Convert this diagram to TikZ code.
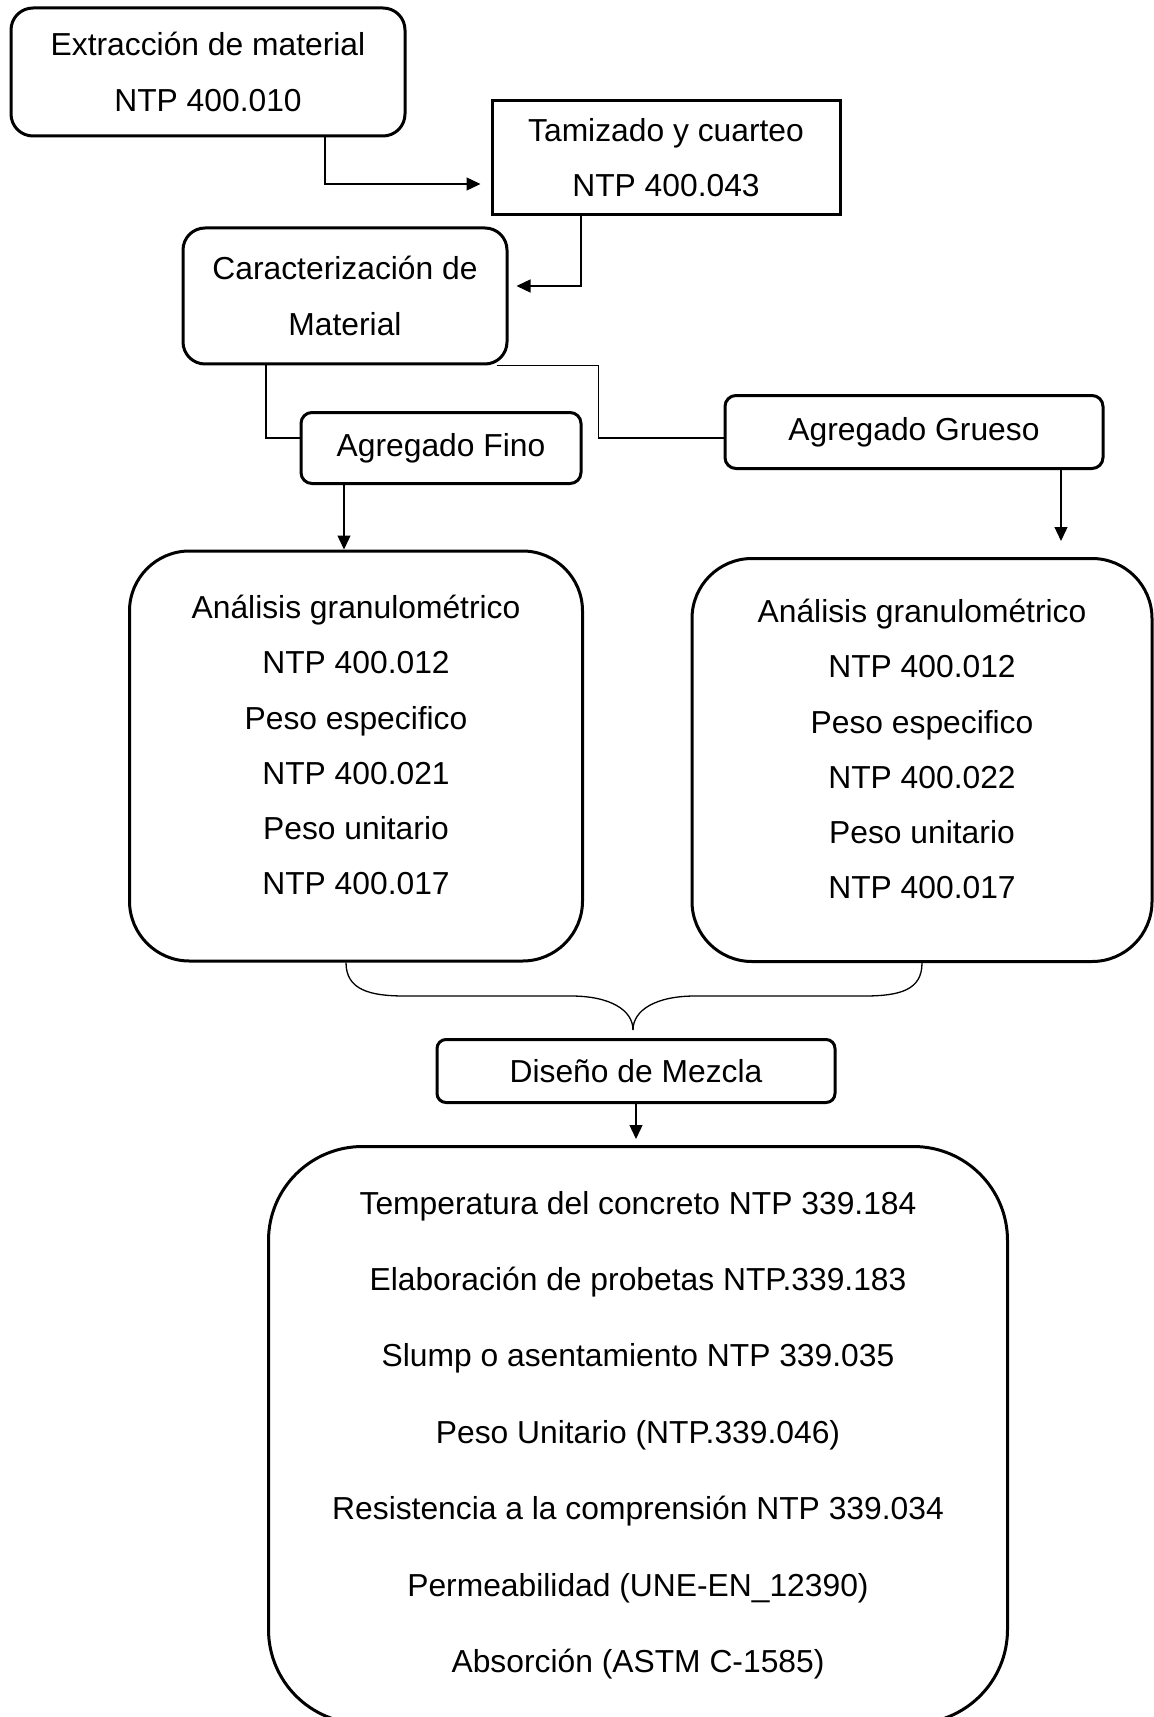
\documentclass[tikz,border=0pt]{standalone}
\usepackage{fontspec}
\setmainfont{Liberation Sans}
\usetikzlibrary{arrows.meta}

\begin{document}
\begin{tikzpicture}[x=0.5pt,y=-0.5pt,>={Triangle[length=7pt,width=6.5pt]},line width=0.65pt]
    \tikzstyle{caja}=[draw,line width=1.5pt,align=center,inner sep=0pt,font=\fontsize{15.9}{27.6}\selectfont]
    \useasboundingbox (0,0) rectangle (1154,1717);
    \node[caja,rounded corners=11pt,minimum width=197pt,minimum height=64pt] (extr) at (208,72) {Extracción de material\\NTP 400.010};
    \node[caja,minimum width=174pt,minimum height=57pt] (tamiz) at (666,158) {Tamizado y cuarteo\\NTP 400.043};
    \node[caja,rounded corners=11pt,minimum width=162pt,minimum height=68pt] (carac) at (345,296) {Caracterización de\\Material};
    \node[caja,rounded corners=5.5pt,minimum width=140pt,minimum height=35.5pt] (fino) at (441,448) {Agregado Fino};
    \node[caja,rounded corners=5.5pt,minimum width=189pt,minimum height=36.5pt] (grueso) at (914,432) {Agregado Grueso};
    \node[caja,rounded corners=30pt,minimum width=226.5pt,minimum height=205pt,text depth=11pt] (anfino) at (356,756)
        {Análisis granulométrico\\NTP 400.012\\Peso especifico\\NTP 400.021\\Peso unitario\\NTP 400.017};
    \node[caja,rounded corners=30pt,minimum width=230pt,minimum height=201.5pt,text depth=11pt] (angrueso) at (922,760)
        {Análisis granulométrico\\NTP 400.012\\Peso especifico\\NTP 400.022\\Peso unitario\\NTP 400.017};
    \node[caja,rounded corners=4.5pt,minimum width=199pt,minimum height=31.5pt] (diseno) at (636,1071) {Diseño de Mezcla};
    \node[caja,rounded corners=47pt,minimum width=369.5pt,minimum height=288.5pt,font=\fontsize{15.9}{38.2}\selectfont] (ensayos) at (638,1435)
        {Temperatura del concreto NTP 339.184\\Elaboración de probetas NTP.339.183\\Slump o asentamiento NTP 339.035\\Peso Unitario (NTP.339.046)\\Resistencia a la comprensión NTP 339.034\\Permeabilidad (UNE-EN\_12390)\\Absorción (ASTM C-1585)};

    \draw[->,shorten >=5pt] ([xshift=58.5pt]extr.south) |- ([yshift=-13pt]tamiz.west);
    \draw[->,shorten >=4pt] ([xshift=-42.5pt]tamiz.south) |- ([yshift=5pt]carac.east);
    \draw ([xshift=-39.5pt]carac.south) |- ([yshift=5pt]fino.west);
    \draw ([xshift=-6pt]carac.south east) -- ++(102,0) |- ([yshift=-3pt]grueso.west);
    \coordinate (f1) at ([xshift=-48.5pt]fino.south);
    \coordinate (g1) at ([xshift=73.5pt]grueso.south);
    \draw[->] (f1) -- (f1 |- anfino.north);
    \draw[->,shorten >=8pt] (g1) -- (g1 |- angrueso.north);
    % llave que junta ambos agregados
    \coordinate (b1) at ([xshift=-5pt]anfino.south);
    \coordinate (pico) at (633,1030);
    \draw (b1) .. controls (346,990) and (370,996) .. (405,996) -- (571,996) .. controls (610,996) and (633,1010) .. (pico);
    \draw (pico) .. controls (633,1010) and (656,996) .. (695,996) -- (864,996) .. controls (900,996) and (922,990) .. (angrueso.south);
    \draw[->,shorten >=3pt] (diseno.south) -- (diseno.south |- ensayos.north);
\end{tikzpicture}
\end{document}
